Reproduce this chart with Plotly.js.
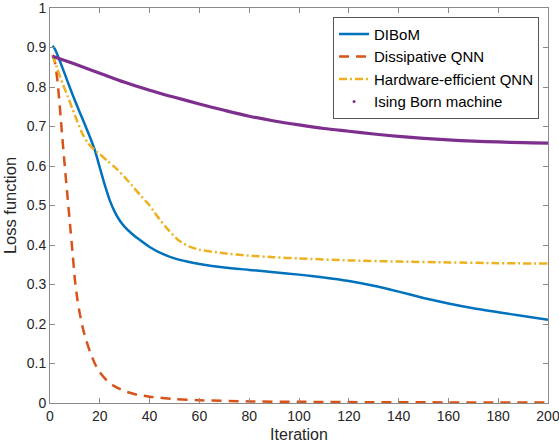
<!DOCTYPE html>
<html>
<head>
<meta charset="utf-8">
<script src="https://cdn.plot.ly/plotly-3.0.1.min.js"></script>
<style>
  html, body { margin: 0; padding: 0; background: #fff; }
  #chart { width: 559px; height: 445px; }
</style>
</head>
<body>
<div id="chart"></div>
<script>
// Training loss per iteration for four generative models
const diboIter = [1, 2, 4, 6, 8, 10, 12, 14, 16, 18, 20, 22, 24, 26, 28, 30, 33, 36, 40, 45, 50, 55, 60, 70, 80, 90, 100, 110, 120, 130, 140, 150, 160, 170, 180, 190, 200];
const diboLoss = [0.904, 0.896, 0.865, 0.832, 0.798, 0.766, 0.735, 0.705, 0.674, 0.640, 0.596, 0.552, 0.513, 0.484, 0.462, 0.446, 0.428, 0.413, 0.395, 0.378, 0.366, 0.358, 0.352, 0.343, 0.337, 0.331, 0.325, 0.318, 0.309, 0.297, 0.282, 0.266, 0.252, 0.240, 0.230, 0.220, 0.211];

const dqnnIter = [1, 2, 3, 4, 5, 6, 7, 8, 9, 10, 11, 12, 13, 14, 16, 18, 20, 23, 26, 30, 35, 40, 50, 60, 80, 100, 130, 160, 200];
const dqnnLoss = [0.881, 0.862, 0.815, 0.745, 0.668, 0.595, 0.525, 0.455, 0.385, 0.312, 0.262, 0.225, 0.195, 0.170, 0.131, 0.100, 0.078, 0.056, 0.042, 0.030, 0.021, 0.016, 0.010, 0.007, 0.004, 0.003, 0.002, 0.0015, 0.001];

const heqnnIter = [1, 3, 5, 7, 9, 11, 13, 15, 17, 20, 23, 26, 30, 33, 36, 40, 44, 48, 52, 56, 60, 70, 80, 90, 100, 120, 140, 160, 180, 200];
const heqnnLoss = [0.881, 0.845, 0.810, 0.778, 0.745, 0.712, 0.682, 0.660, 0.646, 0.630, 0.613, 0.597, 0.572, 0.550, 0.528, 0.500, 0.465, 0.435, 0.410, 0.396, 0.388, 0.379, 0.373, 0.369, 0.366, 0.361, 0.358, 0.356, 0.354, 0.353];

const ibmIter = [1, 10, 20, 30, 40, 50, 60, 70, 80, 90, 100, 110, 120, 130, 140, 150, 160, 170, 180, 190, 200];
const ibmLoss = [0.878, 0.858, 0.835, 0.812, 0.792, 0.774, 0.757, 0.741, 0.726, 0.714, 0.704, 0.695, 0.688, 0.681, 0.675, 0.670, 0.666, 0.663, 0.661, 0.659, 0.658];

const seriesNames = ['DIBoM', 'Dissipative QNN', 'Hardware-efficient QNN', 'Ising Born machine'];
const seriesColors = ['#0072BD', '#D95319', '#EDB120', '#7E2F8E'];

const xTicks = [0, 20, 40, 60, 80, 100, 120, 140, 160, 180, 200];
const yTicks = [0, 0.1, 0.2, 0.3, 0.4, 0.5, 0.6, 0.7, 0.8, 0.9, 1];

const FONT = 'Liberation Sans, Arial, Helvetica, sans-serif';
const TXT = '#262626';
const AX = '#8a8a8a';

const traces = [
  {
    x: diboIter, y: diboLoss, name: seriesNames[0], type: 'scatter', mode: 'lines',
    line: { color: seriesColors[0], width: 2.5, shape: 'spline', smoothing: 0.6 }
  },
  {
    x: dqnnIter, y: dqnnLoss, name: seriesNames[1], type: 'scatter', mode: 'lines',
    line: { color: seriesColors[1], width: 2.5, dash: '10px,7px', shape: 'spline', smoothing: 0.6 }
  },
  {
    x: heqnnIter, y: heqnnLoss, name: seriesNames[2], type: 'scatter', mode: 'lines',
    line: { color: seriesColors[2], width: 2.5, dash: '8px,3px,2px,3px', shape: 'spline', smoothing: 0.6 }
  },
  {
    // dense point markers drawn as a thick curve
    x: ibmIter, y: ibmLoss, name: seriesNames[3], type: 'scatter', mode: 'lines',
    line: { color: seriesColors[3], width: 3.2, shape: 'spline', smoothing: 0.8 },
    showlegend: false
  },
  {
    // legend entry for the point-marker series
    x: [null], y: [null], name: seriesNames[3], type: 'scatter', mode: 'markers',
    marker: { color: seriesColors[3], size: 3 }
  }
];

const layout = {
  width: 559, height: 445,
  paper_bgcolor: '#ffffff', plot_bgcolor: '#ffffff',
  margin: { l: 50, r: 11, t: 8, b: 42 },
  font: { family: FONT, color: TXT, size: 14 },
  showlegend: true,
  legend: {
    x: 0.982, y: 0.978, xanchor: 'right', yanchor: 'top',
    bgcolor: '#ffffff', bordercolor: '#555555', borderwidth: 1,
    font: { family: FONT, size: 15, color: '#000000' },
    tracegroupgap: 0
  },
  xaxis: {
    range: [0, 200], tickvals: xTicks, ticktext: xTicks.map(String),
    ticks: 'inside', ticklen: 5, tickcolor: AX, tickwidth: 1,
    showline: true, linecolor: AX, linewidth: 1, mirror: 'ticks',
    showgrid: false, zeroline: false, ticklabeloverflow: 'allow',
    tickfont: { family: FONT, size: 14, color: TXT },
    title: { text: 'Iteration', font: { family: FONT, size: 16, color: TXT }, standoff: 6 }
  },
  yaxis: {
    range: [0, 1], tickvals: yTicks, ticktext: yTicks.map(String),
    ticks: 'inside', ticklen: 5, tickcolor: AX, tickwidth: 1,
    showline: true, linecolor: AX, linewidth: 1, mirror: 'ticks',
    showgrid: false, zeroline: false, ticklabeloverflow: 'allow',
    tickfont: { family: FONT, size: 14, color: TXT },
    title: { text: 'Loss function', font: { family: FONT, size: 16.5, color: TXT }, standoff: 5 }
  }
};

Plotly.newPlot('chart', traces, layout, { staticPlot: true, displayModeBar: false });
</script>
</body>
</html>
